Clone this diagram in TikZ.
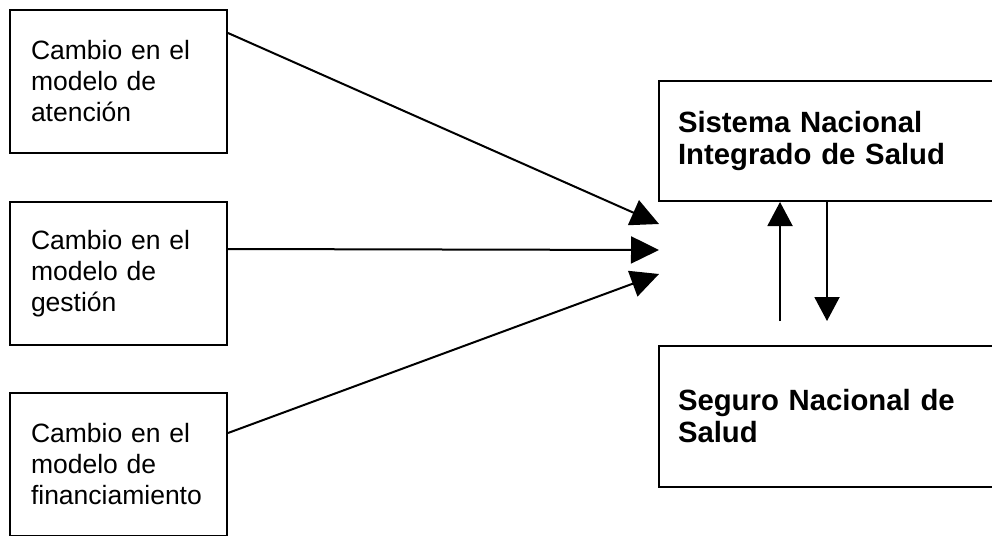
\documentclass[tikz,border=0pt]{standalone}
\usepackage{fontspec}
\setmainfont{Liberation Sans}
\usetikzlibrary{arrows.meta}
\newcommand{\cambionode}[3]{%
  \node[draw,line width=2pt,text width=175pt,inner xsep=21pt,inner ysep=0pt,
        minimum height=143pt,align=left,font=\fontsize{26.5}{31}\selectfont] (#1) at (#2) {#3};
}
\newcommand{\saludnode}[3]{%
  \node[draw,line width=2pt,text width=303pt,inner xsep=19pt,inner ysep=0pt,
        minimum height=#3,align=left,font=\fontsize{29.3}{32}\selectfont\bfseries] (#1) at (#2)
}

\begin{document}
\begin{tikzpicture}[x=1pt,y=-1pt]
  \useasboundingbox (0,0) rectangle (992,535);

  \cambionode{atn}{118.5,81.5}{Cambio en el\\modelo de\\atención}
  \cambionode{ges}{118.5,273.5}{Cambio en el\\modelo de\\gestión}
  \cambionode{fin}{118.5,464.5}{Cambio en el\\modelo de\\financiamiento}

  \saludnode{snis}{829.5,141}{120pt} {Sistema Nacional\\Integrado de Salud};
  \saludnode{sns}{829.5,416.5}{141pt} {Seguro Nacional de\\Salud};

  \coordinate (t1) at (659,224);
  \coordinate (t2) at (659,250);
  \coordinate (t3) at (659,274);
  \coordinate (up) at (780,321);
  \coordinate (dn) at (827,321);

  \draw[-{Triangle[length=28pt,width=27pt]},line width=2pt] ([yshift=48.5pt]atn.east) -- (t1);
  \draw[-{Triangle[length=28pt,width=27pt]},line width=2pt] ([yshift=24.5pt]ges.east) -- (t2);
  \draw[-{Triangle[length=28pt,width=27pt]},line width=2pt] ([yshift=31.5pt]fin.east) -- (t3);

  \draw[-{Triangle[length=24pt,width=25pt]},line width=2pt] (up) -- ([xshift=-49.5pt]snis.south);
  \draw[-{Triangle[length=24pt,width=25pt]},line width=2pt] ([xshift=-2.5pt]snis.south) -- (dn);
\end{tikzpicture}
\end{document}
